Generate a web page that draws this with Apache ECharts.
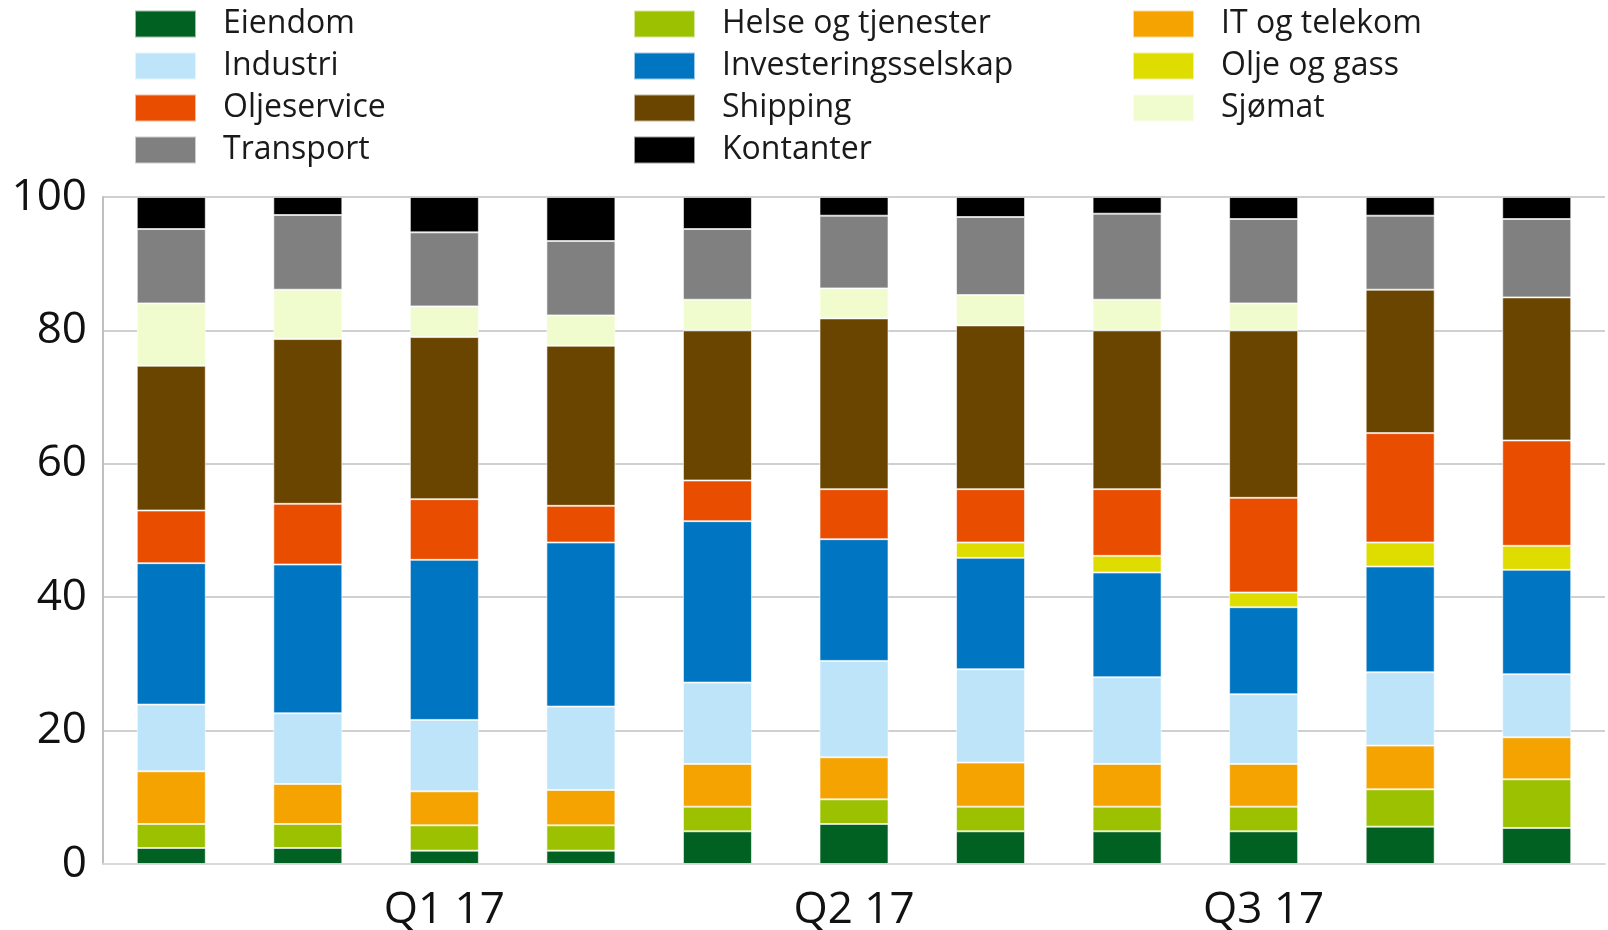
<!DOCTYPE html>
<html>
<head>
<meta charset="utf-8">
<script src="https://cdn.jsdelivr.net/npm/echarts@6/dist/echarts.min.js"></script>
<style>html,body{margin:0;padding:0;background:#fff}#c{width:1608px;height:930px}</style>
</head>
<body>
<div id="c"></div>
<script>
// Months (Dec 16 .. Oct 17); quarter labels shown under the middle month of each quarter
const categories = ['Des 16','Jan 17','Feb 17','Mar 17','Apr 17','Mai 17','Jun 17','Jul 17','Aug 17','Sep 17','Okt 17'];
const tickLabels = ['', '', 'Q1 17', '', '', 'Q2 17', '', '', 'Q3 17', '', ''];
const yTicks = [0, 20, 40, 60, 80, 100];

const seriesNames = ['Eiendom','Helse og tjenester','IT og telekom','Industri','Investeringsselskap','Olje og gass','Oljeservice','Shipping','Sjømat','Transport','Kontanter'];

const eiendom      = [2.4, 2.4, 2.0, 2.0, 4.9, 6.0, 4.9, 4.9, 4.9, 5.6, 5.4];
const helse        = [3.6, 3.6, 3.8, 3.8, 3.7, 3.7, 3.7, 3.7, 3.7, 5.6, 7.3];
const itTelekom    = [7.9, 6.0, 5.1, 5.3, 6.4, 6.3, 6.6, 6.4, 6.4, 6.55, 6.3];
const industri     = [10.0, 10.6, 10.7, 12.5, 12.2, 14.45, 14.0, 13.0, 10.45, 11.0, 9.45];
const investering  = [21.2, 22.3, 24.0, 24.6, 24.2, 18.25, 16.7, 15.7, 13.05, 15.85, 15.65];
const oljeGass     = [0, 0, 0, 0, 0, 0, 2.3, 2.5, 2.2, 3.6, 3.6];
const oljeservice  = [7.9, 9.1, 9.1, 5.5, 6.1, 7.5, 8.0, 10.0, 14.2, 16.4, 15.8];
const shipping     = [21.7, 24.7, 24.3, 24.0, 22.5, 25.6, 24.55, 23.8, 25.1, 21.5, 21.45];
const sjomat       = [9.35, 7.4, 4.6, 4.55, 4.6, 4.5, 4.55, 4.6, 4.05, 0, 0];
const transport    = [11.15, 11.2, 11.1, 11.15, 10.6, 10.9, 11.7, 12.9, 12.65, 11.1, 11.75];
const kontanter    = [4.8, 2.7, 5.3, 6.6, 4.8, 2.8, 3.0, 2.5, 3.3, 2.8, 3.3];

const seriesData = [eiendom, helse, itTelekom, industri, investering, oljeGass, oljeservice, shipping, sjomat, transport, kontanter];
const colors = ['#006122','#9bc100','#f4a300','#bde4f8','#0075c1','#dfdc00','#e94e00','#6a4500','#f0fccd','#808080','#000000'];

const FONT = 'Open Sans';

const series = seriesNames.map((name, i) => ({
  name: name,
  type: 'bar',
  stack: 'total',
  barWidth: 69,
  data: seriesData[i].map(v => v === 0 ? '-' : v),
  itemStyle: { color: colors[i], borderColor: 'rgba(255,255,255,0.6)', borderWidth: 1 },
  emphasis: { disabled: true }
}));

const legendCols = [
  ['Eiendom','Industri','Oljeservice','Transport'],
  ['Helse og tjenester','Investeringsselskap','Shipping','Kontanter'],
  ['IT og telekom','Olje og gass','Sjømat']
];
const legendLeft = [134, 633, 1132];
const legends = legendCols.map((d, i) => ({
  data: d,
  orient: 'vertical',
  left: legendLeft[i],
  top: 8,
  icon: 'rect',
  itemWidth: 61,
  itemHeight: 27,
  itemGap: 10,
  padding: 0,
  selectedMode: false,
  textStyle: { fontFamily: FONT, fontSize: 32, color: '#1a1a1a', lineHeight: 30, padding: [0, 0, 0, 22] }
}));

const chart = echarts.init(document.getElementById('c'), null, { renderer: 'canvas' });
chart.setOption({
  animation: false,
  color: colors,
  legend: legends,
  grid: { left: 103, right: 3, top: 197, bottom: 66, containLabel: false, outerBoundsMode: 'none' },
  xAxis: {
    type: 'category',
    data: categories,
    axisLine: { lineStyle: { color: '#d9d9d9', width: 2 } },
    axisTick: { show: false },
    axisLabel: {
      interval: 0,
      margin: 24,
      fontFamily: FONT, fontSize: 44, color: '#111',
      formatter: (v, idx) => tickLabels[idx]
    }
  },
  yAxis: {
    type: 'value',
    min: yTicks[0], max: yTicks[yTicks.length - 1], interval: 20,
    axisLine: { show: true, lineStyle: { color: '#bfbfbf', width: 2 } },
    axisTick: { show: false },
    splitLine: { lineStyle: { color: '#d0d0d0', width: 2 } },
    axisLabel: { margin: 16, fontFamily: FONT, fontSize: 44, color: '#111' }
  },
  series: series
});
</script>
</body>
</html>
